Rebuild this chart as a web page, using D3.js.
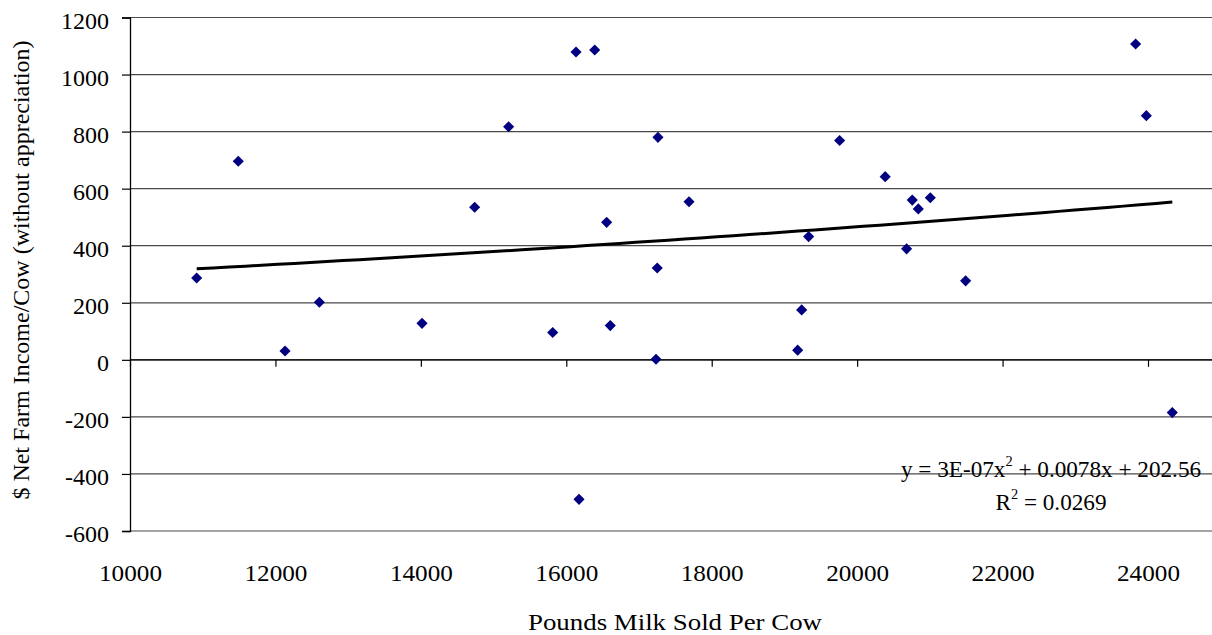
<!DOCTYPE html>
<html>
<head>
<meta charset="utf-8">
<script src="https://cdn.jsdelivr.net/npm/d3@7"></script>
<style>
  html, body { margin: 0; padding: 0; background: #fff; }
  svg { display: block; font-family: "Liberation Serif", "Times New Roman", serif; }
</style>
</head>
<body>
<svg id="chart" width="1212" height="635"></svg>
<script>
// ---- data ----
const milkSold = [10917, 11489, 12132, 12604, 14016, 14740, 15207, 15813, 16134, 16391,
                  16175, 16555, 16605, 17261, 17251, 17234, 17688, 19182, 19237, 19333,
                  19759, 20386, 20680, 20758, 20841, 21006, 21492, 23830, 23977, 24334];
const netIncome = [287, 696, 31, 202, 128, 535, 817, 96, 1079, 1086,
                   -489, 482, 120, 780, 322, 2, 554, 34, 175, 432,
                   769, 642, 389, 560, 529, 568, 277, 1107, 856, -185];
const xTicks = [10000, 12000, 14000, 16000, 18000, 20000, 22000, 24000];
const yTicks = [-600, -400, -200, 0, 200, 400, 600, 800, 1000, 1200];
const xTitle = "Pounds Milk Sold Per Cow";
const yTitle = "$ Net Farm Income/Cow (without appreciation)";
const eqLine1 = ["y = 3E-07x", "2", " + 0.0078x + 202.56"];
const eqLine2 = ["R", "2", " = 0.0269"];

// ---- scales ----
const svg = d3.select("#chart");
const x = d3.scaleLinear().domain([10000, 24000]).range([130, 1148]);
const y = d3.scaleLinear().domain([-600, 1200]).range([531, 17.5]);
const plotRight = 1212;
const FS = 24;
const fmt = d => String(d); // plain hyphen for negatives

// gridlines
svg.append("g").selectAll("line").data(yTicks).join("line")
  .attr("x1", x(10000)).attr("x2", plotRight)
  .attr("y1", d => y(d)).attr("y2", d => y(d))
  .attr("stroke", "#4a4a4a").attr("stroke-width", 1.2);

// y axis
const yAxis = svg.append("g").attr("transform", `translate(${x(10000)},0)`)
  .call(d3.axisLeft(y).tickValues(yTicks).tickSize(8).tickPadding(13).tickFormat(fmt));
yAxis.select(".domain").attr("stroke", "#000").attr("stroke-width", 1.3);
yAxis.selectAll(".tick line").attr("stroke", "#000").attr("stroke-width", 1.2);
yAxis.selectAll("text").attr("font-size", FS).attr("font-family", "Liberation Serif")
  .attr("fill", "#000").attr("dy", "0.45em");

// x axis line at y=0 with downward ticks
const xAxis = svg.append("g").attr("transform", `translate(0,${y(0)})`)
  .call(d3.axisBottom(x).tickValues(xTicks).tickSize(7).tickFormat(""));
xAxis.select(".domain").attr("d", `M${x(10000)},0H${plotRight}`).attr("stroke", "#000").attr("stroke-width", 1.3);
xAxis.selectAll(".tick line").attr("stroke", "#000").attr("stroke-width", 1.2);

// x tick labels at the bottom
const xLab = svg.append("g").attr("transform", `translate(0,${y(-600)})`)
  .call(d3.axisBottom(x).tickValues(xTicks).tickSize(0).tickFormat(fmt));
xLab.select(".domain").remove();
xLab.selectAll("text").attr("font-size", FS).attr("font-family", "Liberation Serif")
  .attr("fill", "#000").attr("y", 50).attr("dy", 0)
  .attr("transform", "scale(1.05,1)");

// trendline: least squares quadratic fit
const mx = d3.mean(milkSold);
const ts = milkSold.map(v => (v - mx) / 1000);
function fitQuad(t, v) {
  let S = [0,0,0,0,0], T = [0,0,0];
  t.forEach((ti, i) => {
    let p = 1;
    for (let k = 0; k < 5; k++) { S[k] += p; if (k < 3) T[k] += p * v[i]; p *= ti; }
  });
  const A = [[S[0],S[1],S[2],T[0]],[S[1],S[2],S[3],T[1]],[S[2],S[3],S[4],T[2]]];
  for (let c = 0; c < 3; c++) {
    for (let r = c + 1; r < 3; r++) {
      const f = A[r][c] / A[c][c];
      for (let k = c; k < 4; k++) A[r][k] -= f * A[c][k];
    }
  }
  const b = [0,0,0];
  for (let r = 2; r >= 0; r--) {
    let s = A[r][3];
    for (let k = r + 1; k < 3; k++) s -= A[r][k] * b[k];
    b[r] = s / A[r][r];
  }
  return b;
}
const coef = fitQuad(ts, netIncome);
const [xmin, xmax] = d3.extent(milkSold);
const fitPts = d3.range(0, 61).map(i => {
  const xv = xmin + (xmax - xmin) * i / 60;
  const t = (xv - mx) / 1000;
  return [xv, coef[0] + coef[1] * t + coef[2] * t * t];
});
svg.append("path").datum(fitPts)
  .attr("d", d3.line().x(d => x(d[0])).y(d => y(d[1])))
  .attr("fill", "none").attr("stroke", "#000").attr("stroke-width", 3);

// points
svg.append("g").selectAll("path").data(milkSold).join("path")
  .attr("d", d3.symbol(d3.symbolSquare, 62)())
  .attr("transform", (d, i) => `translate(${x(d)},${y(netIncome[i])}) rotate(45)`)
  .attr("fill", "#000080");

// equation labels
const EFS = 23.2;
function eqText(parts, cx, by) {
  const t = svg.append("text").attr("x", cx).attr("y", by)
    .attr("text-anchor", "middle").attr("font-size", EFS).attr("fill", "#000")
    .attr("font-family", "Liberation Serif");
  t.append("tspan").text(parts[0]);
  t.append("tspan").text(parts[1]).attr("font-size", EFS * 0.62).attr("dy", -11);
  t.append("tspan").text(parts[2]).attr("dy", 11);
  return t;
}
eqText(eqLine1, 1051, 477);
eqText(eqLine2, 1051, 510);

// axis titles
svg.append("text").attr("x", 675).attr("y", 630).attr("text-anchor", "middle")
  .attr("font-size", FS).attr("fill", "#000").attr("textLength", 294)
  .attr("lengthAdjust", "spacingAndGlyphs").text(xTitle);
svg.append("text").attr("transform", "translate(29,270) rotate(-90)")
  .attr("text-anchor", "middle").attr("font-size", FS).attr("fill", "#000")
  .text(yTitle);
</script>
</body>
</html>
